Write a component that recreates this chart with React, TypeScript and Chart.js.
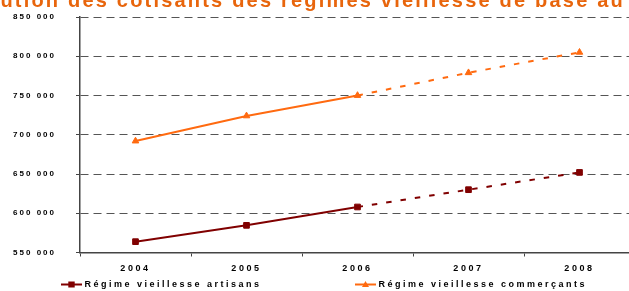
import { useEffect, useRef } from 'react';
import { Chart, registerables } from 'chart.js';

Chart.register(...registerables);

const years = ['2004', '2005', '2006', '2007', '2008'];
const artisans = [563800, 584600, 608000, 630000, 652000];
const commercants = [692000, 724000, 750000, 779000, 805000];
const seriesNames = ['Régime vieillesse artisans', 'Régime vieillesse commerçants'];
const seriesColors = ['#800000', '#ff6a10'];
const seriesMarkers = ['rect', 'triangle'];
const projectedFrom = 2; // index from which values are projections (dashed)
const yMin = 550000;
const yMax = 850000;
const yStep = 50000;
const titleText = 'Évolution des cotisants des régimes vieillesse de base au';

const FONT = "'Liberation Sans', Arial, sans-serif";
const CANVAS_W = 640;

const fmt = (v: number) =>
  Math.round(v)
    .toString()
    .replace(/\B(?=(\d{3})+(?!\d))/g, ' ');

const withSpacing = (scale: any, spacing: string) => {
  if (scale.__patched) return;
  scale.__patched = true;
  const orig = scale.drawLabels;
  scale.drawLabels = function (area: any) {
    const c = this.ctx;
    const prev = c.letterSpacing;
    c.letterSpacing = spacing;
    orig.call(this, area);
    c.letterSpacing = prev || '0px';
  };
};

const zeroPad = (s: any) => {
  s.paddingTop = 0;
  s.paddingBottom = 0;
  s.paddingLeft = 0;
  s.paddingRight = 0;
};

const decorPlugin = {
  id: 'decor',
  afterUpdate(chart: any) {
    withSpacing(chart.scales.x, '2.6px');
    withSpacing(chart.scales.y, '2px');
  },
  afterDraw(chart: any) {
    const ctx = chart.ctx;
    ctx.save();
    // title (cropped at the top in the reference)
    ctx.letterSpacing = '2.2px';
    ctx.font = `bold 20px ${FONT}`;
    ctx.fillStyle = '#e8650c';
    ctx.textAlign = 'left';
    ctx.textBaseline = 'alphabetic';
    const pre = ctx.measureText('Évolution ').width;
    ctx.fillText(titleText, 68 - pre, 7);

    // legend
    const legendX = [61, 355];
    const y = 284.5;
    chart.data.datasets.forEach((ds: any, i: number) => {
      const x0 = legendX[i];
      ctx.setLineDash([]);
      ctx.strokeStyle = ds.borderColor;
      ctx.fillStyle = ds.backgroundColor;
      ctx.lineWidth = 2;
      ctx.beginPath();
      ctx.moveTo(x0, y);
      ctx.lineTo(x0 + 21, y);
      ctx.stroke();
      const cx = x0 + 10.5;
      ctx.beginPath();
      if (seriesMarkers[i] === 'rect') {
        ctx.rect(cx - 3.2, y - 3, 6.4, 6);
      } else {
        ctx.moveTo(cx, y - 3.5);
        ctx.lineTo(cx + 3.5, y + 2.5);
        ctx.lineTo(cx - 3.5, y + 2.5);
        ctx.closePath();
      }
      ctx.fill();
      ctx.letterSpacing = '2.5px';
      ctx.font = `bold 9px ${FONT}`;
      ctx.fillStyle = '#000';
      ctx.textBaseline = 'middle';
      ctx.fillText(ds.label, x0 + 23.5, y);
    });
    ctx.restore();
  },
};

export default function App() {
  const ref = useRef<HTMLCanvasElement>(null);

  useEffect(() => {
    const canvas = ref.current;
    if (!canvas) return;
    const dash = (c: any) => (c.p0DataIndex >= projectedFrom ? [5.5, 9] : []);
    const chart = new Chart(canvas, {
      type: 'line',
      data: {
        labels: years,
        datasets: [artisans, commercants].map((d, i) => ({
          label: seriesNames[i],
          data: d,
          borderColor: seriesColors[i],
          backgroundColor: seriesColors[i],
          borderWidth: 2,
          pointStyle: seriesMarkers[i] as any,
          pointRadius: i === 0 ? 4 : 3.8,
          pointBorderWidth: 1,
          pointBackgroundColor: seriesColors[i],
          pointBorderColor: seriesColors[i],
          tension: 0,
          fill: false,
          segment: { borderDash: dash },
        })),
      },
      options: {
        responsive: false,
        animation: false,
        devicePixelRatio: 1,
        layout: { padding: { left: 0, right: 4, top: 17, bottom: 18 } },
        plugins: {
          legend: { display: false },
          title: { display: false },
          tooltip: { enabled: false },
        },
        scales: {
          x: {
            type: 'category',
            offset: true,
            afterFit: (s: any) => {
              s.height = 20.5;
              zeroPad(s);
            },
            grid: {
              display: true,
              offset: true,
              drawOnChartArea: false,
              drawTicks: true,
              tickLength: 4,
              tickColor: '#444',
              tickWidth: 1,
              tickBorderDash: [],
            },
            border: { display: true, color: '#444', width: 1.5 },
            ticks: {
              color: '#000',
              font: { family: FONT, size: 9, weight: 'bold' },
              padding: 7,
              maxRotation: 0,
              autoSkip: false,
            },
          },
          y: {
            min: yMin,
            max: yMax,
            afterFit: (s: any) => {
              s.width = 80;
              zeroPad(s);
            },
            grid: {
              display: true,
              color: '#555',
              lineWidth: 1,
              drawTicks: true,
              tickLength: 4,
              tickColor: '#444',
              tickWidth: 1,
              tickBorderDash: [],
            },
            border: { display: true, color: '#444', width: 1.5, dash: [8, 5] },
            ticks: {
              stepSize: yStep,
              color: '#000',
              font: { family: FONT, size: 8, weight: 'bold' },
              padding: 20,
              callback: (v: any) => fmt(Number(v)),
            },
          },
        },
      },
      plugins: [decorPlugin],
    } as any);
    return () => chart.destroy();
  }, []);

  return (
    <div style={{ position: 'fixed', left: 0, top: 0, width: 629, height: 291, background: '#fff', overflow: 'hidden' }}>
      <canvas
        ref={ref}
        width={CANVAS_W}
        height={291}
        style={{ width: CANVAS_W, height: 291, display: 'block' }}
      />
    </div>
  );
}
